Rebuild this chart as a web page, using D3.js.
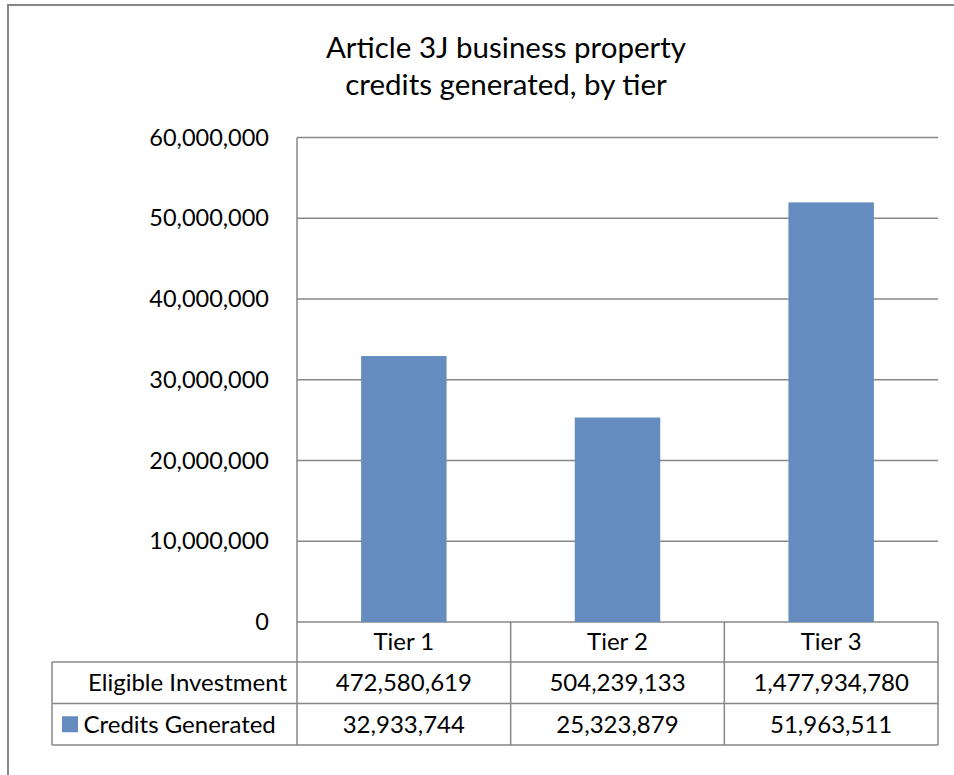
<!DOCTYPE html>
<html><head><meta charset="utf-8">
<script src="https://cdn.jsdelivr.net/npm/d3@7"></script>
<style>body{margin:0;background:#fff}svg{display:block}text{font-family:Lato,"Noto Sans",sans-serif;fill:#000}</style>
</head><body>
<script>
const titleLines = ["Article 3J business property", "credits generated, by tier"];
const tiers = ["Tier 1", "Tier 2", "Tier 3"];
const creditsGenerated = [32933744, 25323879, 51963511];
const eligibleInvestment = [472580619, 504239133, 1477934780];
const rowNames = ["Eligible Investment", "Credits Generated"];
const yTicks = [0, 10000000, 20000000, 30000000, 40000000, 50000000, 60000000];

const W = 954, H = 775;
const grid = "#878787", barColor = "#658CBF";
const svg = d3.select("body").append("svg").attr("width", W).attr("height", H);

// outer chart border (left & top visible)
svg.append("path").attr("d", `M8,${H} V5 H${W}`).attr("fill", "none").attr("stroke", grid).attr("stroke-width", 2);

// title
svg.append("text").attr("text-anchor", "middle").attr("font-size", 29.5)
  .selectAll("tspan").data(titleLines).join("tspan")
  .attr("x", 506).attr("y", (d, i) => 58 + i * 37).text(d => d);

const plotL = 297, plotR = 938, plotT = 137.5, plotB = 622;
const y = d3.scaleLinear().domain([0, 60000000]).range([plotB, plotT]);
const x = d3.scaleBand().domain(tiers).range([plotL, plotR]).paddingInner(0.6).paddingOuter(0.3);

// gridlines
svg.append("g").selectAll("line").data(yTicks).join("line")
  .attr("x1", plotL).attr("x2", plotR).attr("y1", d => y(d)).attr("y2", d => y(d))
  .attr("stroke", grid).attr("stroke-width", 1.5);

// y axis labels
const yAxis = svg.append("g").attr("transform", `translate(${plotL},0)`)
  .call(d3.axisLeft(y).tickValues(yTicks).tickFormat(d3.format(",")).tickSize(0).tickPadding(28));
yAxis.select(".domain").remove();
yAxis.selectAll("text").attr("font-size", 23.5).attr("font-family", "Lato").attr("fill", "#000");

// bars
svg.append("g").selectAll("rect").data(tiers).join("rect")
  .attr("x", d => x(d)).attr("width", x.bandwidth())
  .attr("y", (d, i) => y(creditsGenerated[i]))
  .attr("height", (d, i) => y(0) - y(creditsGenerated[i]))
  .attr("fill", barColor);

// data table
const tblL = 52;
const rowY = [plotB, 662, 703.5, 745];
const step = x.step();
const colX = tiers.map((d, i) => plotL + i * step).concat([plotR]);
const tg = svg.append("g").attr("stroke", grid).attr("stroke-width", 1.5);
[1, 2, 3].forEach(r => tg.append("line").attr("x1", tblL).attr("x2", plotR).attr("y1", rowY[r]).attr("y2", rowY[r]));
tg.selectAll(".v").data(colX).join("line").attr("class", "v")
  .attr("x1", d => d).attr("x2", d => d).attr("y1", (d, i) => i === 0 ? plotT : plotB).attr("y2", rowY[3]);
tg.append("line").attr("x1", tblL).attr("x2", tblL).attr("y1", rowY[1]).attr("y2", rowY[3]);

const fs = 24;
const fmt = d3.format(",");
// tier labels
svg.append("g").selectAll("text").data(tiers).join("text")
  .attr("x", d => x(d) + x.bandwidth() / 2).attr("y", (rowY[0] + rowY[1]) / 2)
  .attr("dy", "0.35em").attr("text-anchor", "middle").attr("font-size", fs).text(d => d);
// values
const rows = [eligibleInvestment, creditsGenerated];
rows.forEach((vals, r) => {
  const cy = (rowY[r + 1] + rowY[r + 2]) / 2;
  svg.append("g").selectAll("text").data(vals).join("text")
    .attr("x", (d, i) => x(tiers[i]) + x.bandwidth() / 2).attr("y", cy)
    .attr("dy", "0.35em").attr("text-anchor", "middle").attr("font-size", fs).text(d => fmt(d));
});
// row headers
svg.append("text").attr("x", 287).attr("y", (rowY[1] + rowY[2]) / 2).attr("dy", "0.35em")
  .attr("text-anchor", "end").attr("font-size", fs).text(rowNames[0]);
const cy2 = (rowY[2] + rowY[3]) / 2;
svg.append("rect").attr("x", 62).attr("y", cy2 - 8).attr("width", 16).attr("height", 16).attr("fill", barColor);
svg.append("text").attr("x", 83.5).attr("y", cy2).attr("dy", "0.35em")
  .attr("text-anchor", "start").attr("font-size", fs).text(rowNames[1]);
</script>
</body></html>
